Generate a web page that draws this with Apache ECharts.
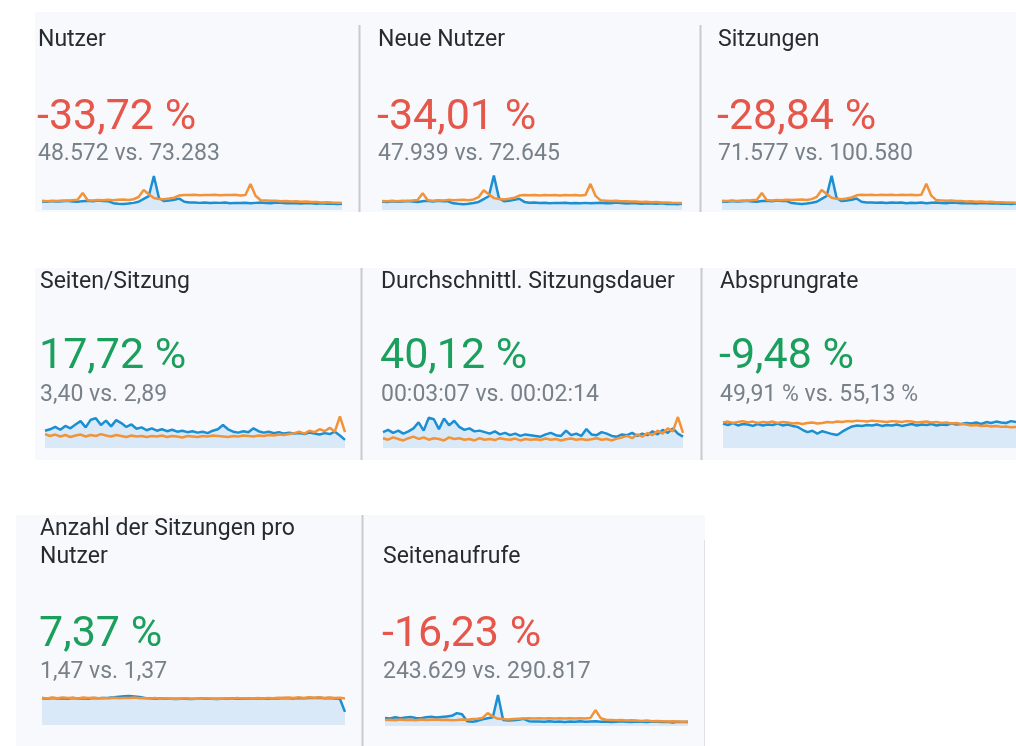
<!DOCTYPE html>
<html>
<head>
<meta charset="utf-8">
<script src="https://cdn.jsdelivr.net/npm/echarts@6/dist/echarts.min.js"></script>
<style>
  html, body { margin: 0; padding: 0; background: #fff; }
  #chart { width: 1016px; height: 746px; }
</style>
</head>
<body>
<div id="chart"></div>
<script>
// Tageswerte, aktueller Zeitraum (blau) vs. Vorzeitraum (orange)
var days = Array.from({ length: 60 }, function (_, i) { return i + 1 })

var titles = ['Nutzer', 'Neue Nutzer', 'Sitzungen', 'Seiten/Sitzung', 'Durchschnittl. Sitzungsdauer',
  'Absprungrate', 'Anzahl der Sitzungen pro\nNutzer', 'Seitenaufrufe']
var changes = ['-33,72 %', '-34,01 %', '-28,84 %', '17,72 %', '40,12 %', '-9,48 %', '7,37 %', '-16,23 %']
var compares = ['48.572 vs. 73.283', '47.939 vs. 72.645', '71.577 vs. 100.580', '3,40 vs. 2,89',
  '00:03:07 vs. 00:02:14', '49,91 % vs. 55,13 %', '1,47 vs. 1,37', '243.629 vs. 290.817']
var positive = [false, false, false, true, true, true, true, false]
var yMax = [2400, 2400, 3500, 7.5, 450, 75, 1.65, 11000]

var nutzerCur = [540, 520, 560, 530, 550, 580, 540, 520, 560, 590, 550, 600, 570, 560, 430, 400, 380, 410, 450, 520,
  700, 880, 2150, 760, 560, 600, 650, 720, 520, 470, 480, 450, 470, 440, 460, 450, 470, 430, 450, 440,
  460, 430, 450, 470, 440, 430, 480, 450, 420, 440, 430, 410, 440, 420, 400, 430, 390, 410, 380, 400]
var nutzerPrev = [580, 560, 590, 570, 600, 580, 610, 640, 1070, 620, 600, 630, 610, 650, 620, 640, 660, 630, 680, 820,
  1260, 1000, 760, 700, 680, 720, 780, 920, 950, 940, 960, 930, 950, 940, 960, 930, 950, 940, 960, 920,
  950, 1640, 900, 620, 600, 580, 590, 560, 570, 540, 550, 520, 530, 500, 510, 480, 490, 470, 460, 450]

var neueCur = [530, 510, 550, 520, 540, 570, 530, 510, 550, 580, 540, 590, 560, 550, 420, 390, 370, 400, 440, 510,
  690, 870, 2180, 750, 550, 590, 640, 710, 510, 460, 470, 440, 460, 430, 450, 440, 460, 420, 440, 430,
  450, 420, 440, 460, 430, 420, 470, 440, 410, 430, 420, 400, 430, 410, 390, 420, 380, 400, 370, 390]
var neuePrev = [570, 550, 580, 560, 590, 570, 600, 630, 1060, 610, 590, 620, 600, 640, 610, 630, 650, 620, 670, 810,
  1250, 990, 750, 690, 670, 710, 770, 910, 940, 930, 950, 920, 940, 930, 950, 920, 940, 930, 950, 910,
  940, 1650, 890, 610, 590, 570, 580, 550, 560, 530, 540, 510, 520, 490, 500, 470, 480, 460, 450, 440]

var sitzCur = [790, 760, 820, 780, 800, 850, 790, 760, 820, 860, 800, 880, 840, 820, 640, 590, 560, 600, 660, 760,
  1020, 1290, 3150, 1110, 820, 880, 950, 1060, 760, 690, 700, 660, 690, 650, 680, 660, 690, 630, 660, 650,
  680, 630, 660, 690, 650, 630, 700, 660, 620, 650, 630, 600, 650, 620, 590, 630, 570, 600, 560, 590]
var sitzPrev = [850, 820, 870, 840, 880, 850, 900, 940, 1570, 910, 880, 920, 900, 950, 910, 940, 970, 920, 1000, 1200,
  1850, 1470, 1120, 1030, 1000, 1060, 1150, 1350, 1400, 1380, 1410, 1370, 1400, 1380, 1410, 1370, 1400, 1380, 1410, 1350,
  1400, 2410, 1320, 910, 880, 850, 870, 820, 840, 790, 810, 760, 780, 740, 750, 710, 720, 690, 680, 660]

var seitenSitzCur = [3.6, 3.9, 4.4, 3.8, 4.6, 4.1, 4.9, 5.6, 4.3, 5.9, 6.2, 4.8, 5.7, 4.5, 5.8, 5.2, 4.4, 4.9, 4.0, 4.3,
  3.7, 4.1, 3.6, 3.9, 3.5, 3.8, 3.4, 3.6, 3.3, 3.5, 3.2, 3.4, 3.1, 3.6, 3.9, 4.8, 3.9, 3.4, 3.2, 3.5,
  3.3, 4.1, 3.5, 3.2, 3.4, 3.1, 3.3, 3.0, 3.2, 3.0, 3.1, 2.9, 3.2, 3.0, 2.8, 3.1, 2.9, 3.4, 2.6, 1.7]
var seitenSitzPrev = [2.9, 2.5, 2.8, 2.4, 2.7, 2.3, 2.6, 2.8, 2.4, 2.7, 2.5, 2.9, 2.6, 2.4, 2.7, 2.5, 2.3, 2.6, 2.4, 2.5,
  2.3, 2.5, 2.4, 2.6, 2.3, 2.5, 2.4, 2.2, 2.5, 2.4, 2.3, 2.5, 2.4, 2.6, 2.5, 2.4, 2.3, 2.5, 2.4, 2.6,
  2.5, 2.4, 2.6, 2.5, 2.7, 2.6, 2.8, 2.7, 2.9, 3.1, 3.4, 3.0, 3.6, 3.3, 3.9, 3.5, 4.2, 3.4, 6.6, 3.3]

var dauerCur = [210, 240, 200, 230, 190, 220, 260, 340, 230, 400, 380, 250, 390, 300, 360, 280, 240, 260, 220, 230,
  210, 190, 220, 180, 200, 170, 190, 160, 180, 170, 160, 150, 180, 200, 170, 160, 230, 170, 190, 160,
  250, 180, 170, 210, 190, 160, 150, 180, 170, 200, 160, 190, 170, 220, 180, 240, 200, 260, 190, 150]
var dauerPrev = [130, 110, 140, 120, 100, 130, 150, 120, 140, 110, 130, 120, 100, 140, 120, 130, 110, 120, 100, 130,
  110, 120, 105, 130, 115, 110, 125, 100, 120, 110, 115, 105, 125, 110, 120, 100, 115, 125, 110, 120,
  105, 115, 130, 110, 120, 100, 125, 140, 160, 130, 180, 150, 200, 170, 230, 190, 260, 220, 410, 200]

var absprungCur = [51, 48, 52, 47, 50, 49, 46, 50, 47, 49, 48, 51, 47, 49, 46, 44, 38, 33, 36, 30,
  35, 32, 29, 27, 34, 40, 45, 47, 46, 48, 47, 49, 46, 48, 47, 49, 46, 48, 50, 47,
  49, 48, 50, 47, 49, 48, 51, 49, 50, 52, 51, 53, 50, 54, 52, 55, 53, 52, 56, 54]
var absprungPrev = [53, 55, 52, 54, 56, 53, 55, 52, 54, 53, 55, 52, 54, 53, 51, 52, 50, 52, 53, 51,
  52, 54, 53, 55, 54, 56, 55, 57, 56, 55, 57, 56, 55, 54, 56, 55, 54, 56, 55, 53,
  54, 55, 53, 54, 52, 53, 51, 52, 50, 49, 47, 48, 46, 47, 45, 46, 44, 45, 43, 44]

var proNutzerCur = [1.47, 1.45, 1.48, 1.46, 1.47, 1.45, 1.48, 1.46, 1.47, 1.45, 1.48, 1.47, 1.49, 1.50, 1.52, 1.55, 1.58, 1.60, 1.57, 1.54,
  1.49, 1.47, 1.45, 1.46, 1.44, 1.45, 1.43, 1.44, 1.45, 1.43, 1.44, 1.46, 1.44, 1.45, 1.43, 1.45, 1.44, 1.46, 1.45, 1.44,
  1.46, 1.45, 1.47, 1.46, 1.45, 1.47, 1.46, 1.48, 1.47, 1.46, 1.48, 1.47, 1.49, 1.48, 1.50, 1.47, 1.49, 1.46, 1.44, 0.72]
var proNutzerPrev = [1.50, 1.46, 1.51, 1.47, 1.52, 1.48, 1.50, 1.46, 1.51, 1.48, 1.50, 1.47, 1.49, 1.46, 1.50, 1.47, 1.49, 1.48, 1.51, 1.47,
  1.49, 1.46, 1.48, 1.45, 1.47, 1.44, 1.46, 1.45, 1.47, 1.44, 1.46, 1.45, 1.47, 1.45, 1.46, 1.44, 1.47, 1.45, 1.48, 1.46,
  1.47, 1.45, 1.48, 1.46, 1.49, 1.47, 1.50, 1.48, 1.51, 1.49, 1.52, 1.48, 1.53, 1.50, 1.52, 1.49, 1.51, 1.48, 1.50, 1.46]

var aufrufeCur = [2700, 2500, 2900, 2600, 2800, 3000, 2700, 2600, 2900, 3100, 2800, 3000, 3200, 3400, 4300, 3900, 1600, 1400, 1700, 2200,
  2600, 2900, 10300, 2000, 1800, 1900, 2100, 2400, 1600, 1500, 1500, 1400, 1600, 1400, 1500, 1300, 1500, 1400, 1600, 1400,
  1500, 1600, 1400, 1500, 1300, 1400, 1600, 1400, 1300, 1500, 1400, 1300, 1500, 1400, 1300, 1400, 1200, 1400, 1300, 1350]
var aufrufePrev = [2000, 2100, 1900, 2200, 2000, 2100, 1900, 2200, 2000, 2100, 2200, 2000, 2100, 1900, 2000, 2200, 2100, 2300, 2400, 2700,
  4300, 3200, 2400, 2300, 2200, 2300, 2400, 2500, 2600, 2500, 2600, 2500, 2600, 2500, 2600, 2500, 2600, 2500, 2600, 2500,
  2700, 5300, 2600, 2100, 2000, 1900, 2000, 1800, 1900, 1800, 1700, 1800, 1600, 1700, 1600, 1500, 1600, 1500, 1400, 1500]

var current = [nutzerCur, neueCur, sitzCur, seitenSitzCur, dauerCur, absprungCur, proNutzerCur, aufrufeCur]
var previous = [nutzerPrev, neuePrev, sitzPrev, seitenSitzPrev, dauerPrev, absprungPrev, proNutzerPrev, aufrufePrev]

// Positionen der Kacheln
var layout = [
  { x: 38, title: 40, big: 118, sub: 154, grid: { left: 42, top: 172, width: 300, height: 38 } },
  { x: 378, title: 40, big: 118, sub: 154, grid: { left: 382, top: 172, width: 300, height: 38 } },
  { x: 718, title: 40, big: 118, sub: 154, grid: { left: 722, top: 172, width: 294, height: 38 } },
  { x: 40, title: 282, big: 357, sub: 395, grid: { left: 45, top: 412, width: 300, height: 36 } },
  { x: 381, title: 282, big: 357, sub: 395, grid: { left: 383, top: 414, width: 300, height: 34 } },
  { x: 720, title: 282, big: 357, sub: 395, grid: { left: 723, top: 412, width: 293, height: 36 } },
  { x: 40, title: 543, big: 635, sub: 672, grid: { left: 42, top: 695, width: 303, height: 30 } },
  { x: 383, title: 557, big: 635, sub: 672, grid: { left: 385, top: 693, width: 303, height: 33 } }
]

var BLUE = '#1b8fd2'
var ORANGE = '#f39237'
var RED = '#e5574a'
var GREEN = '#1b9f5d'

var chart = echarts.init(document.getElementById('chart'))

var grids = [], xAxes = [], yAxes = [], series = []
var graphics = [
  { type: 'rect', shape: { x: 35, y: 12, width: 981, height: 200 }, style: { fill: '#f8f9fc' } },
  { type: 'rect', shape: { x: 35, y: 268, width: 981, height: 192 }, style: { fill: '#f8f9fc' } },
  { type: 'rect', shape: { x: 16, y: 515, width: 689, height: 231 }, style: { fill: '#f8f9fc' } },
  { type: 'line', shape: { x1: 359.5, y1: 25, x2: 359.5, y2: 212 }, style: { stroke: '#c5cbd1', lineWidth: 2 } },
  { type: 'line', shape: { x1: 700.5, y1: 25, x2: 700.5, y2: 212 }, style: { stroke: '#c5cbd1', lineWidth: 2 } },
  { type: 'line', shape: { x1: 361.5, y1: 268, x2: 361.5, y2: 460 }, style: { stroke: '#c5cbd1', lineWidth: 2 } },
  { type: 'line', shape: { x1: 701.5, y1: 268, x2: 701.5, y2: 460 }, style: { stroke: '#c5cbd1', lineWidth: 2 } },
  { type: 'line', shape: { x1: 362.5, y1: 515, x2: 362.5, y2: 746 }, style: { stroke: '#c5cbd1', lineWidth: 2 } },
  { type: 'line', shape: { x1: 704.5, y1: 540, x2: 704.5, y2: 746 }, style: { stroke: '#dfe3e7', lineWidth: 1 } }
]

titles.forEach(function (t, i) {
  var l = layout[i]
  grids.push(l.grid)
  xAxes.push({ gridIndex: i, type: 'category', boundaryGap: false, data: days, show: false })
  yAxes.push({ gridIndex: i, type: 'value', min: 0, max: yMax[i], show: false })
  series.push({
    type: 'line', xAxisIndex: i, yAxisIndex: i, data: current[i],
    showSymbol: false, lineStyle: { color: BLUE, width: 2.5 }, itemStyle: { color: BLUE },
    areaStyle: { color: '#d9e9f7', opacity: 1 }, z: 2
  })
  series.push({
    type: 'line', xAxisIndex: i, yAxisIndex: i, data: previous[i],
    showSymbol: false, lineStyle: { color: ORANGE, width: 2.5 }, itemStyle: { color: ORANGE }, z: 3
  })
  graphics.push({
    type: 'text', x: l.x, y: l.title,
    style: { text: t, font: '23px Roboto', fill: '#262b31', textVerticalAlign: 'middle', lineHeight: 28 }
  })
  graphics.push({
    type: 'text', x: l.x - 1, y: l.big,
    style: { text: changes[i], font: '43px Roboto', fill: positive[i] ? GREEN : RED, textVerticalAlign: 'middle' }
  })
  graphics.push({
    type: 'text', x: l.x, y: l.sub,
    style: { text: compares[i], font: '23px Roboto', fill: '#788089', textVerticalAlign: 'middle' }
  })
})

chart.setOption({
  animation: false,
  backgroundColor: '#ffffff',
  graphic: { elements: graphics },
  grid: grids,
  xAxis: xAxes,
  yAxis: yAxes,
  series: series
})
</script>
</body>
</html>
